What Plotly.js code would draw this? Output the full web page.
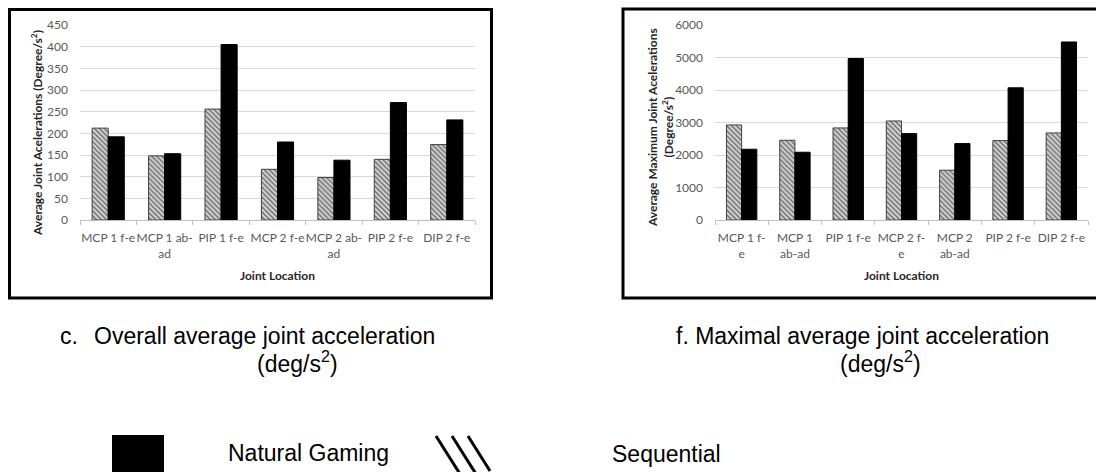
<!DOCTYPE html>
<html>
<head>
<meta charset="utf-8">
<script src="https://cdn.plot.ly/plotly-3.0.1.min.js"></script>
<style>html,body{margin:0;padding:0;background:#fff;}#chart{width:1096px;height:472px;}</style>
</head>
<body>
<div id="chart"></div>
<script>
// ---- data ----
const catsLeft = ["MCP 1 f-e", "MCP 1 ab-<br>ad", "PIP 1 f-e", "MCP 2 f-e", "MCP 2 ab-<br>ad", "PIP 2 f-e", "DIP 2 f-e"];
const catsRight = ["MCP 1 f-<br>e", "MCP 1<br>ab-ad", "PIP 1 f-e", "MCP 2 f-<br>e", "MCP 2<br>ab-ad", "PIP 2 f-e", "DIP 2 f-e"];
const avgSequential = [212, 148, 256, 117, 98, 140, 174];
const avgNatural = [192, 153, 405, 180, 138, 271, 231];
const maxSequential = [2925, 2453, 2833, 3047, 1533, 2443, 2679];
const maxNatural = [2177, 2085, 4970, 2658, 2351, 4068, 5478];
const seriesNames = ["Sequential Gaming", "Natural Gaming"];

const W = 1096, H = 472;
const px = v => v / W;
const py = v => 1 - v / H;

const hatch = {shape: "\\", fgcolor: "#666666", bgcolor: "#d6d6d6", size: 3.5, solidity: 0.4};
function seqTrace(x, y, xa, ya) {
  return {type: "bar", x: x, y: y, xaxis: xa, yaxis: ya, name: seriesNames[0], showlegend: false,
    marker: {color: "#d6d6d6", pattern: hatch, line: {color: "#404040", width: 1}}};
}
function natTrace(x, y, xa, ya) {
  return {type: "bar", x: x, y: y, xaxis: xa, yaxis: ya, name: seriesNames[1], showlegend: false,
    marker: {color: "#000000", line: {color: "#000000", width: 1}}};
}

const data = [
  seqTrace(catsLeft, avgSequential, "x", "y"),
  natTrace(catsLeft, avgNatural, "x", "y"),
  seqTrace(catsRight, maxSequential, "x2", "y2"),
  natTrace(catsRight, maxNatural, "x2", "y2")
];

const tickFont = {family: "Lato, 'Open Sans', sans-serif", size: 12, color: "#595959"};
const titleFont = {family: "Lato, 'Open Sans', sans-serif", size: 12, color: "#262626"};
const capFont = {family: "'Liberation Sans', Arial, sans-serif", size: 23, color: "#000000"};

function xaxisCfg(x0, x1, anchor) {
  return {domain: [px(x0), px(x1)], anchor: anchor, type: "category",
    showline: true, linecolor: "#bfbfbf", linewidth: 1,
    ticks: "outside", tickson: "boundaries", ticklen: 4, tickcolor: "#bfbfbf",
    tickangle: 0, tickfont: tickFont, ticklabelstandoff: 7, showgrid: false, fixedrange: true,
    title: {text: "<b>Joint Location</b>", font: titleFont, standoff: 11}};
}
function yaxisCfg(range, dtick, anchor) {
  return {domain: [py(220), py(25)], anchor: anchor, range: range, dtick: dtick,
    showline: false, showgrid: true, gridcolor: "#d9d9d9", gridwidth: 1,
    zeroline: false, ticks: "", tickfont: tickFont, ticklabelstandoff: 11, fixedrange: true};
}

const layout = {
  width: W, height: H,
  margin: {l: 0, r: 0, t: 0, b: 0},
  paper_bgcolor: "#ffffff", plot_bgcolor: "#ffffff",
  barmode: "group", bargap: 0.43, bargroupgap: 0,
  showlegend: false,
  xaxis: xaxisCfg(80, 475, "y"),
  yaxis: yaxisCfg([0, 450], 50, "x"),
  xaxis2: xaxisCfg(715, 1088, "y2"),
  yaxis2: yaxisCfg([0, 6000], 1000, "x2"),
  shapes: [
    {type: "rect", xref: "paper", yref: "paper", x0: px(9.5), x1: px(491.5), y0: py(298), y1: py(9.5),
      line: {color: "#000", width: 3}, fillcolor: "rgba(0,0,0,0)", layer: "above"},
    {type: "rect", xref: "paper", yref: "paper", x0: px(623), x1: px(1102), y0: py(298), y1: py(9),
      line: {color: "#000", width: 3}, fillcolor: "rgba(0,0,0,0)", layer: "above"},
    // legend icons
    {type: "rect", xref: "paper", yref: "paper", x0: px(112), x1: px(164), y0: py(474), y1: py(435),
      line: {width: 0}, fillcolor: "#000"},
    {type: "line", xref: "paper", yref: "paper", x0: px(436), x1: px(460), y0: py(436), y1: py(474), line: {color: "#000", width: 3}},
    {type: "line", xref: "paper", yref: "paper", x0: px(452), x1: px(476), y0: py(436), y1: py(474), line: {color: "#000", width: 3}},
    {type: "line", xref: "paper", yref: "paper", x0: px(468), x1: px(490), y0: py(436), y1: py(471), line: {color: "#000", width: 3}}
  ],
  annotations: [
    {xref: "paper", yref: "paper", x: px(37), y: py(133), text: "<b>Average Joint Acelerations (Degree/s<sup>2</sup>)</b>",
      textangle: -90, showarrow: false, font: titleFont, xanchor: "center", yanchor: "middle"},
    {xref: "paper", yref: "paper", x: px(661), y: py(128), text: "<b>Average Maximum Joint Acelerations<br>(Degree/s<sup>2</sup>)</b>",
      textangle: -90, showarrow: false, font: titleFont, xanchor: "center", yanchor: "middle"},
    {xref: "paper", yref: "paper", x: px(58), y: py(336), text: "c.", showarrow: false, font: capFont, xanchor: "left", yanchor: "middle"},
    {xref: "paper", yref: "paper", x: px(92), y: py(336), text: "Overall average joint acceleration", showarrow: false, font: capFont, xanchor: "left", yanchor: "middle"},
    {xref: "paper", yref: "paper", x: px(298), y: py(362), text: "(deg/s<sup>2</sup>)", showarrow: false, font: capFont, xanchor: "center", yanchor: "middle"},
    {xref: "paper", yref: "paper", x: px(862), y: py(336), text: "f. Maximal average joint acceleration", showarrow: false, font: capFont, xanchor: "center", yanchor: "middle"},
    {xref: "paper", yref: "paper", x: px(880), y: py(362), text: "(deg/s<sup>2</sup>)", showarrow: false, font: capFont, xanchor: "center", yanchor: "middle"},
    {xref: "paper", yref: "paper", x: px(226), y: py(453), text: "Natural Gaming", showarrow: false, font: capFont, xanchor: "left", yanchor: "middle"},
    {xref: "paper", yref: "paper", x: px(610), y: py(439), text: "Sequential<br>Gaming", showarrow: false, font: capFont, xanchor: "left", yanchor: "top", align: "left"}
  ]
};

Plotly.newPlot("chart", data, layout, {displayModeBar: false, staticPlot: true});
</script>
</body>
</html>
